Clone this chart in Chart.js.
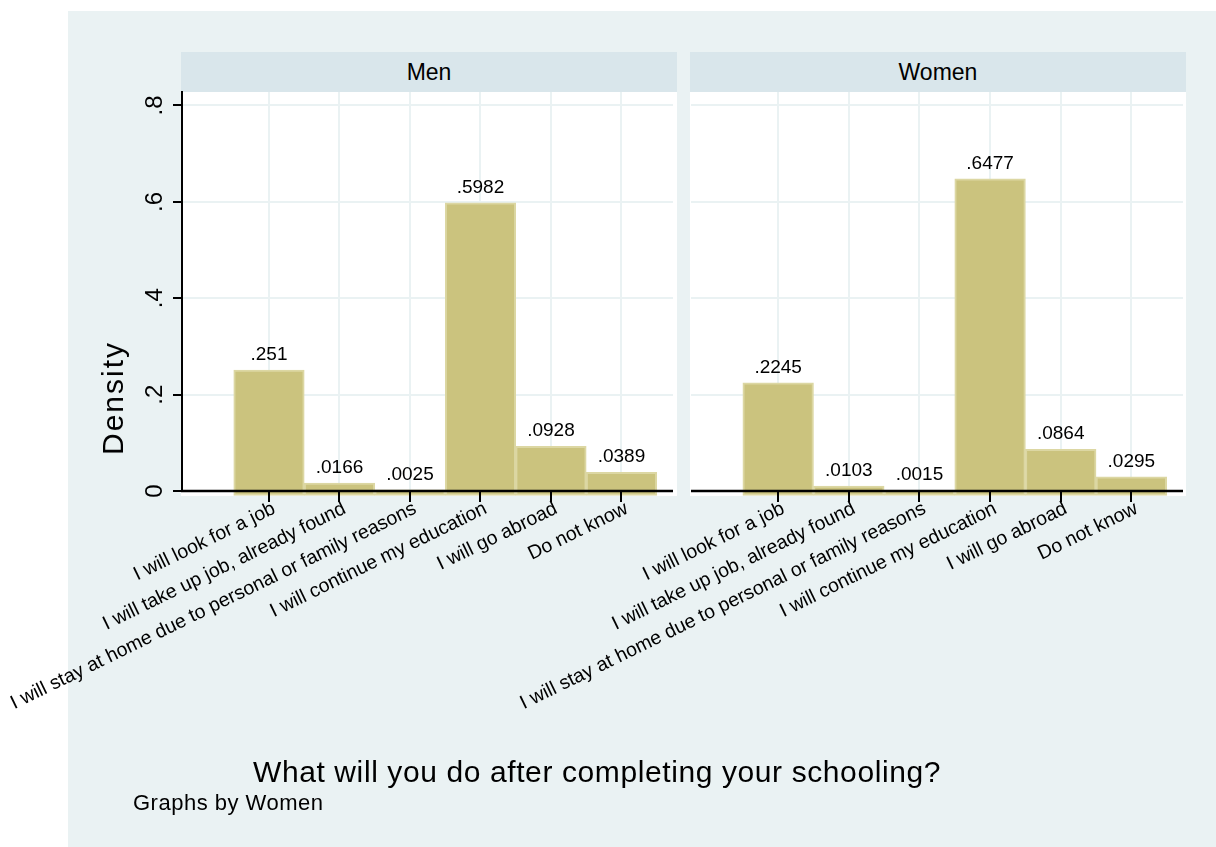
<!DOCTYPE html>
<html>
<head>
<meta charset="utf-8">
<script src="https://cdn.jsdelivr.net/npm/chart.js@4.4.1/dist/chart.umd.min.js"></script>
<style>
  html, body { margin:0; padding:0; background:#ffffff; width:1216px; height:847px; overflow:hidden;
    font-family:"Liberation Sans", Arial, sans-serif; color:#000; }
  #bg { position:absolute; left:68px; top:11px; width:1148px; height:836px; background:#EAF2F3; }
  .panel { position:absolute; top:92px; height:404px; width:496px; background:#ffffff; }
  .strip { position:absolute; top:52px; height:40px; width:496px; background:#D9E6EB;
    font-size:23px; line-height:40px; text-align:center; }
  canvas { position:absolute; left:0; top:0; }
  .txt { position:absolute; white-space:nowrap; }
</style>
</head>
<body>
<div id="bg"></div>
<div class="panel" style="left:181px"></div>
<div class="panel" style="left:690px"></div>
<div class="strip" id="s0" style="left:181px"></div>
<div class="strip" id="s1" style="left:690px"></div>
<canvas id="men" width="1216" height="847"></canvas>
<canvas id="women" width="1216" height="847"></canvas>
<div class="txt" id="ytitle" style="left:113px; top:398px; font-size:30px; line-height:30px; letter-spacing:2px; transform:translate(-50%,-50%) rotate(-90deg);"></div>
<div class="txt" id="xtitle" style="left:253px; top:757px; font-size:30px; line-height:30px; letter-spacing:0.6px;"></div>
<div class="txt" id="note" style="left:133px; top:792px; font-size:22px; line-height:22px; letter-spacing:0.5px;"></div>
<script>
const categories = [
  "I will look for a job",
  "I will take up job, already found",
  "I will stay at home due to personal or family reasons",
  "I will continue my education",
  "I will go abroad",
  "Do not know"
];
const menValues = [0.251, 0.0166, 0.0025, 0.5982, 0.0928, 0.0389];
const womenValues = [0.2245, 0.0103, 0.0015, 0.6477, 0.0864, 0.0295];
const yTickValues = [0, 0.2, 0.4, 0.6, 0.8];
const yTickLabels = ["0", ".2", ".4", ".6", ".8"];
const panelTitles = ["Men", "Women"];
const yTitle = "Density";
const xTitle = "What will you do after completing your schooling?";
const noteText = "Graphs by Women";

document.getElementById('s0').textContent = panelTitles[0];
document.getElementById('s1').textContent = panelTitles[1];
document.getElementById('ytitle').textContent = yTitle;
document.getElementById('xtitle').textContent = xTitle;
document.getElementById('note').textContent = noteText;

const FONT = '"Liberation Sans", Arial, sans-serif';
const BAR = '#CBC37E';
const BAR_EDGE = '#DCD7A3';
const GRID = '#EAF2F3';
const PAGE_W = 1216, PAGE_H = 847;
const TOP = 92, AXIS_Y = 491;
const XMIN = -0.234, XMAX = 6.731, YMAX = 0.828;
const LABEL_ANGLE = 26 * Math.PI / 180;

function fmt(v) { return String(v).replace(/^0\./, '.'); }

const overlay = {
  id: 'overlay',
  afterDatasetsDraw(chart, args, opts) {
    const { ctx, chartArea } = chart;
    const xs = chart.scales.x, ys = chart.scales.y;
    const y0 = ys.getPixelForValue(0);
    ctx.save();
    // x axis line and ticks
    ctx.strokeStyle = '#000';
    ctx.lineWidth = 2.5;
    ctx.beginPath();
    ctx.moveTo(chartArea.left - (opts.showY ? 1 : 0), y0);
    ctx.lineTo(chartArea.right, y0);
    ctx.stroke();
    ctx.lineWidth = 2;
    ctx.beginPath();
    xs.ticks.forEach(t => {
      const px = Math.round(xs.getPixelForValue(t.value));
      ctx.moveTo(px, y0);
      ctx.lineTo(px, y0 + 11);
    });
    ctx.stroke();
    // x tick labels (rotated)
    ctx.fillStyle = '#000';
    ctx.font = '19.5px ' + FONT;
    ctx.textAlign = 'right';
    ctx.textBaseline = 'top';
    xs.ticks.forEach(t => {
      const px = xs.getPixelForValue(t.value);
      ctx.save();
      ctx.translate(px + 1, y0 + 8);
      ctx.rotate(-LABEL_ANGLE);
      ctx.fillText(categories[t.value - 1], 0, 0);
      ctx.restore();
    });
    // value labels
    const meta = chart.getDatasetMeta(0);
    const data = chart.data.datasets[0].data;
    ctx.font = '19px ' + FONT;
    ctx.textAlign = 'center';
    ctx.textBaseline = 'alphabetic';
    meta.data.forEach((bar, i) => {
      ctx.fillText(fmt(data[i].y), bar.x, bar.y - 10);
    });
    // y tick labels (rotated)
    if (opts.showY) {
      ctx.font = '24px ' + FONT;
      ctx.textBaseline = 'middle';
      yTickValues.forEach((v, i) => {
        ctx.save();
        ctx.translate(155, ys.getPixelForValue(v));
        ctx.rotate(-Math.PI / 2);
        ctx.fillText(yTickLabels[i], 0, 0);
        ctx.restore();
      });
    }
    ctx.restore();
  }
};

function makeChart(id, values, left, right, showY) {
  return new Chart(document.getElementById(id), {
    type: 'bar',
    data: {
      datasets: [{
        data: values.map((v, i) => ({ x: i + 1, y: v })),
        backgroundColor: BAR,
        borderColor: BAR_EDGE,
        borderWidth: 2,
        borderSkipped: false,
        barPercentage: 1,
        categoryPercentage: 1,
        base: -0.009,
        clip: false
      }]
    },
    options: {
      responsive: false,
      animation: false,
      devicePixelRatio: 1,
      layout: { padding: { top: TOP, right: PAGE_W - right, bottom: 0, left: 0 } },
      plugins: { legend: { display: false }, tooltip: { enabled: false }, overlay: { showY } },
      scales: {
        x: {
          type: 'linear', min: XMIN, max: XMAX, offset: false,
          afterBuildTicks: s => { s.ticks = categories.map((c, i) => ({ value: i + 1 })); },
          afterFit: s => { s.height = PAGE_H - AXIS_Y; },
          grid: { color: GRID, lineWidth: 2, drawTicks: false, offset: false },
          border: { display: false },
          ticks: { display: false }
        },
        y: {
          min: 0, max: YMAX,
          afterBuildTicks: s => { s.ticks = yTickValues.map(v => ({ value: v })); },
          afterFit: s => { s.width = left; },
          grid: { color: GRID, lineWidth: 2, drawTicks: showY, tickLength: 9, tickColor: '#000', tickWidth: 2 },
          border: { display: showY, color: '#000', width: 2 },
          ticks: { display: false }
        }
      }
    },
    plugins: [overlay]
  });
}

makeChart('men', menValues, 182, 673, true);
makeChart('women', womenValues, 691, 1183, false);
</script>
</body>
</html>
